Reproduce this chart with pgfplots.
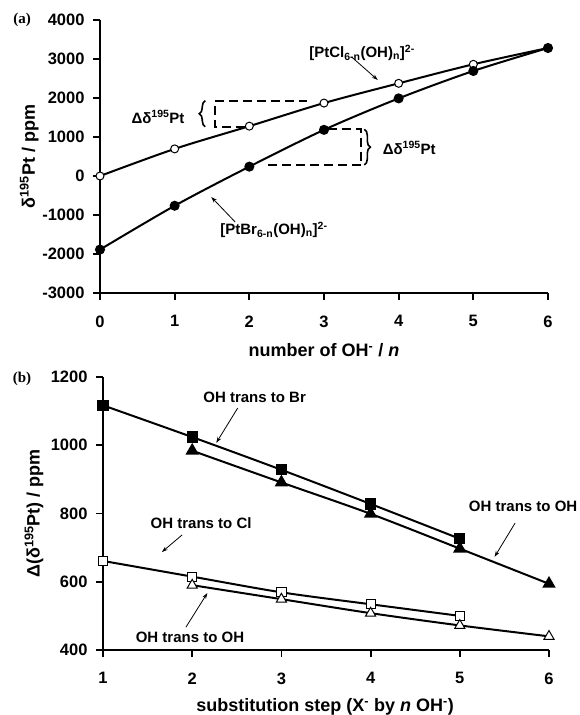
\documentclass[border=0pt]{standalone}
\usepackage{fontspec}
\setmainfont{Liberation Sans}
\newfontfamily\serifbf{Liberation Serif}
\usepackage{pgfplots}
\pgfplotsset{compat=1.18}
\usetikzlibrary{arrows.meta,decorations.pathreplacing}

\pgfplotsset{
  panel/.style={
    scale only axis, axis lines=left, axis line style={line width=2.2pt,-},
    xtick pos=left, ytick pos=left,
    tick align=outside, major tick length=7pt,
    every tick/.style={black, line width=1.8pt}, minor tick num=0,
    tick label style={font=\fontsize{16.5}{19}\selectfont\bfseries},
    xticklabel style={yshift=-12pt},
    yticklabel style={xshift=-5pt},
    /pgf/number format/assume math mode=true,
    /pgf/number format/1000 sep={},
    label style={font=\fontsize{18}{21}\selectfont\bfseries},
    clip=false,
    every axis plot/.append style={black, line width=2pt},
  },
}
\tikzset{
  ann/.style={font=\fontsize{15}{18}\selectfont\bfseries},
  pt arrow/.style={-{Stealth[length=6pt,width=4pt]}, line width=0.8pt},
  bracket/.style={dash pattern=on 9pt off 5pt, line width=2pt},
  curly/.style={decorate, decoration={brace, amplitude=6pt}, line width=1.6pt},
}

\begin{document}
\begin{tikzpicture}[x=1pt,y=1pt]
\path[use as bounding box] (0,0) rectangle (579,715);

% (a) chemical shifts
\begin{axis}[panel, at={(100pt,422pt)}, anchor=south west,
  width=448pt, height=273pt,
  xmin=0, xmax=6, ymin=-3000, ymax=4000,
  xtick={0,...,6}, ytick={-3000,-2000,...,4000},
  xlabel={number of OH\textsuperscript{-} / \textit{n}},
  ylabel={δ\textsuperscript{195}Pt / ppm},
  xlabel style={at={(axis description cs:0.5,-0.209)}, anchor=center},
  ylabel style={at={(axis description cs:-0.158,0.5)}, anchor=center},
]
\addplot[smooth, mark=*, mark size=4pt, mark options={fill=white, line width=1pt}]
  coordinates {(0,0)(1,695)(2,1278)(3,1870)(4,2376)(5,2864)(6,3282)};
\addplot[smooth, mark=*, mark size=4pt, mark options={fill=black}]
  coordinates {(0,-1887)(1,-763)(2,240)(3,1183)(4,1990)(5,2693)(6,3282)};

\node[ann] at (axis cs:3.51,3154) {[PtCl\textsubscript{6-n}(OH)\textsubscript{n}]\textsuperscript{2-}};
\draw[pt arrow] (axis cs:3.37,3051) -- (axis cs:3.72,2462);
\node[ann] at (axis cs:2.33,-1385) {[PtBr\textsubscript{6-n}(OH)\textsubscript{n}]\textsuperscript{2-}};
\draw[pt arrow] (axis cs:1.81,-1179) -- (axis cs:1.49,-538);

\draw[bracket] (axis cs:1.94,1264) -- (axis cs:1.54,1264) -- (axis cs:1.54,1931) -- (axis cs:2.77,1931);
\draw[curly] (axis cs:1.41,1264) -- (axis cs:1.41,1931);
\node[ann] at (axis cs:0.777,1513) {Δδ\textsuperscript{195}Pt};

\draw[bracket] (axis cs:3.05,1197) -- (axis cs:3.50,1197) -- (axis cs:3.50,282) -- (axis cs:2.18,282);
\draw[curly] (axis cs:3.54,1197) -- (axis cs:3.54,282);
\node[ann, anchor=west] at (axis cs:3.74,718) {Δδ\textsuperscript{195}Pt};
\end{axis}

% (b) increments per substitution step
\begin{axis}[panel, at={(103pt,65pt)}, anchor=south west,
  width=446pt, height=273pt,
  xmin=1, xmax=6, ymin=400, ymax=1200,
  xtick={1,...,6}, ytick={400,600,...,1200},
  xlabel={substitution step (X\textsuperscript{-} by \textit{n} OH\textsuperscript{-})},
  ylabel={Δ(δ\textsuperscript{195}Pt) / ppm},
  xlabel style={at={(axis description cs:0.498,-0.209)}, anchor=center},
  ylabel style={at={(axis description cs:-0.155,0.5)}, anchor=center},
]
\addplot[smooth, mark=square*, mark size=4.6pt, mark options={fill=black}]
  coordinates {(1,1117)(2,1024)(3,928)(4,828)(5,726)};
\addplot[smooth, mark=triangle*, mark size=5.8pt, mark options={fill=black}]
  coordinates {(2,984)(3,891)(4,799)(5,697)(6,594)};
\addplot[smooth, mark=square*, mark size=4.6pt, mark options={fill=white, line width=1pt}]
  coordinates {(1,661)(2,615)(3,569)(4,534)(5,500)};
\addplot[smooth, mark=triangle*, mark size=5.8pt, mark options={fill=white, line width=1pt}]
  coordinates {(2,590)(3,549)(4,508)(5,472)(6,440)};

\node[ann] at (axis cs:2.70,1141) {OH trans to Br};
\draw[pt arrow] (axis cs:2.51,1109) -- (axis cs:2.27,1007);
\node[ann] at (axis cs:5.71,822) {OH trans to OH};
\draw[pt arrow] (axis cs:5.62,772) -- (axis cs:5.39,673);
\node[ann] at (axis cs:2.10,772) {OH trans to Cl};
\draw[pt arrow] (axis cs:1.886,737) -- (axis cs:1.66,687);
\node[ann] at (axis cs:1.975,438) {OH trans to OH};
\draw[pt arrow] (axis cs:1.93,467) -- (axis cs:2.17,567);
\end{axis}

\node[font=\fontsize{15}{18}\selectfont\serifbf\bfseries] at (22,695) {(a)};
\node[font=\fontsize{15}{18}\selectfont\serifbf\bfseries] at (22,336) {(b)};
\end{tikzpicture}
\end{document}
